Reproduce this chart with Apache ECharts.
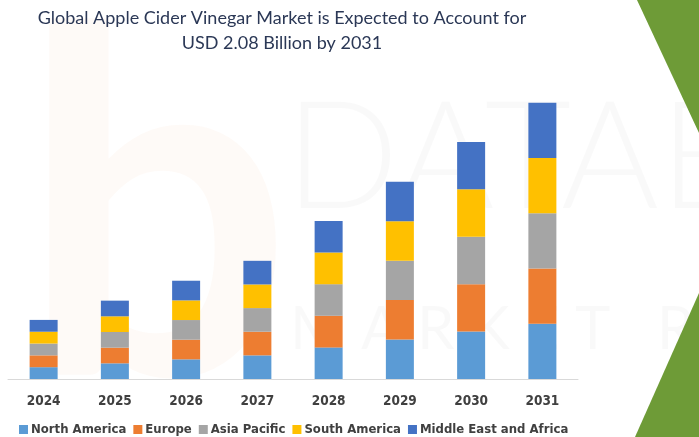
<!DOCTYPE html>
<html>
<head>
<meta charset="utf-8">
<script src="https://cdn.jsdelivr.net/npm/echarts@6/dist/echarts.min.js"></script>
<style>html,body{margin:0;padding:0;background:#fff;}#c{width:699px;height:437px;}</style>
</head>
<body>
<div id="c"></div>
<script>
var years = ['2024','2025','2026','2027','2028','2029','2030','2031'];
var northAmerica = [0.089,0.118,0.148,0.178,0.238,0.297,0.357,0.416];
var europe       = [0.089,0.118,0.148,0.178,0.238,0.297,0.357,0.416];
var asiaPacific  = [0.089,0.118,0.148,0.178,0.238,0.297,0.357,0.416];
var southAmerica = [0.089,0.118,0.148,0.178,0.238,0.297,0.357,0.416];
var mea          = [0.089,0.118,0.148,0.178,0.238,0.297,0.357,0.416];
var seriesNames = ['North America','Europe','Asia Pacific','South America','Middle East and Africa'];
var seriesData = [northAmerica, europe, asiaPacific, southAmerica, mea];
var colors = ['#5B9BD5','#ED7D31','#A5A5A5','#FFC000','#4472C4'];

var chart = echarts.init(document.getElementById('c'));
chart.setOption({
  animation: false,
  color: colors,
  title: {
    text: 'Global Apple Cider Vinegar Market is Expected to Account for\nUSD 2.08 Billion by 2031',
    left: 277, top: 1, textAlign: 'center',
    textStyle: {fontFamily: 'Lato', fontWeight: 'normal', fontSize: 18, color: '#2B3856', lineHeight: 25}
  },
  graphic: [
    {type: 'text', left: 285, top: 85, z: -10, silent: true,
      style: {text: 'DATABRI', fontFamily: 'Lato', fontSize: 150, fontWeight: 300, fill: 'rgba(0,0,0,0.025)'}},
    {type: 'text', left: 290, top: 300, z: -10, silent: true,
      style: {text: 'M A R K E T   R E S', fontFamily: 'Lato', fontSize: 60, fill: 'rgba(0,0,0,0.025)'}},
    {type: 'text', left: 20, top: -20, z: -10, silent: true,
      style: {text: 'b', fontFamily: 'Lato', fontSize: 480, fontWeight: 'bold', fill: 'rgba(240,120,40,0.04)'}},
    {type: 'polygon', z: -5, silent: true, shape: {points: [[637,0],[699,0],[699,133]]}, style: {fill: '#6E9B37'}},
    {type: 'polygon', z: -5, silent: true, shape: {points: [[699,293],[635,437],[699,437]]}, style: {fill: '#6E9B37'}}
  ],
  legend: {
    top: 421, left: 14, padding: [2, 5], itemWidth: 9, itemHeight: 9, itemGap: 7, icon: 'rect',
    textStyle: {fontFamily: 'DejaVu Sans Condensed', fontWeight: 'bold', fontSize: 13, color: '#404040', padding: [0,0,0,-2]}
  },
  grid: {left: 8, right: 121, top: 47, bottom: 58},
  xAxis: {
    type: 'category', data: years,
    axisLine: {lineStyle: {color: '#D9D9D9'}},
    axisTick: {show: false},
    axisLabel: {fontFamily: 'DejaVu Sans Condensed', fontWeight: 'bold', fontSize: 13.5, color: '#404040', margin: 15}
  },
  yAxis: {type: 'value', min: 0, max: 2.5, show: false, splitLine: {show: false}},
  series: seriesNames.map(function(n, i){
    return {name: n, type: 'bar', stack: 'total', barWidth: 28, data: seriesData[i]};
  })
});
</script>
</body>
</html>
